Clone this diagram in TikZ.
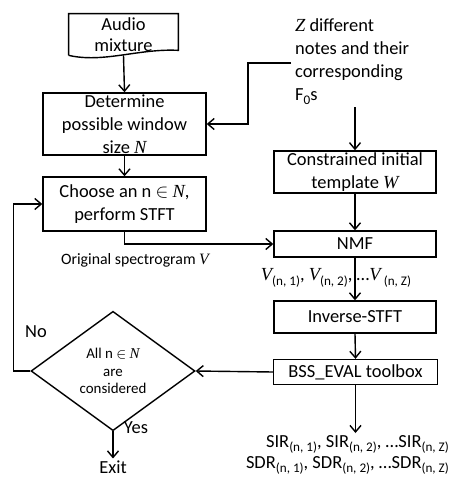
\documentclass[tikz,border=0pt]{standalone}
\usepackage{fontspec}
\setmainfont{Carlito}
\newfontfamily\varfont{Liberation Serif}
\usetikzlibrary{shapes.geometric,arrows.meta,positioning,calc}
\newcommand{\var}[1]{{\varfont\itshape #1}}
\newcommand{\low}[1]{\raisebox{-0.5ex}{\fontsize{7.5}{8}\selectfont #1}}

\begin{document}
\begin{tikzpicture}[x=0.02cm,y=-0.02cm,
  box/.style={draw,line width=0.8pt,align=center,inner sep=1pt,
    font=\fontsize{10.5}{13}\selectfont},
  label/.style={align=center,inner sep=1pt,font=\fontsize{10.5}{13}\selectfont},
  small/.style={align=center,inner sep=1pt,font=\fontsize{8.5}{10}\selectfont},
  arrow/.style={line width=0.8pt,-{Straight Barb[length=1.3mm,width=2.2mm]}},
  line/.style={line width=0.8pt}]
  \useasboundingbox (0,0) rectangle (451,477);
  % input signal
  \node[label,minimum width=2.18cm,minimum height=0.82cm,font=\fontsize{10.5}{12}\selectfont]
    (audio) at (123.5,34.5) {Audio\\mixture};
  \draw[line] (audio.south west) -- (audio.north west) -- (audio.north east)
    -- ($(audio.south east)+(0,-5)$)
    .. controls +(-40,-2) and +(35,8) .. (audio.south west);
  % left column
  \node[box,minimum width=3.26cm,minimum height=1.24cm] (win) at (124.5,124)
    {Determine\\possible window\\size \var{N}};
  \node[box,minimum width=3.26cm,minimum height=1.08cm] (stft) at (124.5,204)
    {Choose an n $\in$ \var{N},\\perform STFT};
  \node[draw,diamond,line width=0.8pt,inner sep=0pt,minimum width=3.28cm,
    minimum height=1.86cm,small] (done) at (113,371)
    {All n $\in$ \var{N}\\are\\considered};
  % right column
  \node[label,anchor=north west,align=left] (notes) at (293,17)
    {\var{Z} different\\notes and their\\corresponding\\F\low{0}s};
  \coordinate (notesin) at (291,63);
  \node[box,minimum width=3.24cm,minimum height=0.80cm] (tmpl) at (355,172)
    {Constrained initial\\template \var{W}};
  \node[box,minimum width=3.24cm,minimum height=0.52cm] (nmf) at (355,244) {NMF};
  \node[box,minimum width=3.24cm,minimum height=0.64cm] (istft) at (355,317) {Inverse-STFT};
  \node[box,minimum width=3.28cm,minimum height=0.50cm] (bss) at (355.5,372) {BSS\_EVAL toolbox};
  % labels
  \node[label,font=\fontsize{9}{11}\selectfont] (spec) at (135,260) {Original spectrogram \var{V}};
  \node[label] (vsep) at (336,278)
    {\var{V}\low{(n, 1)}, \var{V}\low{(n, 2)}, \ldots\var{V}\,\low{(n, Z)}};
  \node[label,anchor=north east,align=right,font=\fontsize{10.5}{12}\selectfont] (res) at (451,433)
    {SIR\low{(n, 1)}, SIR\low{(n, 2)}, \ldots SIR\low{(n, Z)}\\
     SDR\low{(n, 1)}, SDR\low{(n, 2)}, \ldots SDR\low{(n, Z)}};
  \node[label] (yes) at (136,428) {Yes};
  \node[label] (no) at (36,332) {No};
  \node[label] (exit) at (113,467) {Exit};
  % connectors
  \draw[arrow] (audio.south) -- (win.north);
  \draw[arrow] (win.south) -- (stft.north);
  \draw[arrow] (notesin) -- ++(-43,0) |- (win.east);
  \draw[arrow] (tmpl.north |- notes.south) -- (tmpl.north);
  \draw[arrow] (tmpl.south) -- (nmf.north);
  \draw[arrow] (stft.south) |- (nmf.west);
  \draw[arrow] (nmf.south) -- (istft.north);
  \draw[arrow] (istft.south) -- (bss.north);
  \draw[arrow] (bss.west) -- (done.east);
  \draw[arrow] (done.west) -- ++(-17,0) |- (stft.west);
  \draw[arrow] (done.south) -- (exit.north);
  \draw[arrow] (bss.south) -- (bss.south |- res.north);
\end{tikzpicture}
\end{document}
